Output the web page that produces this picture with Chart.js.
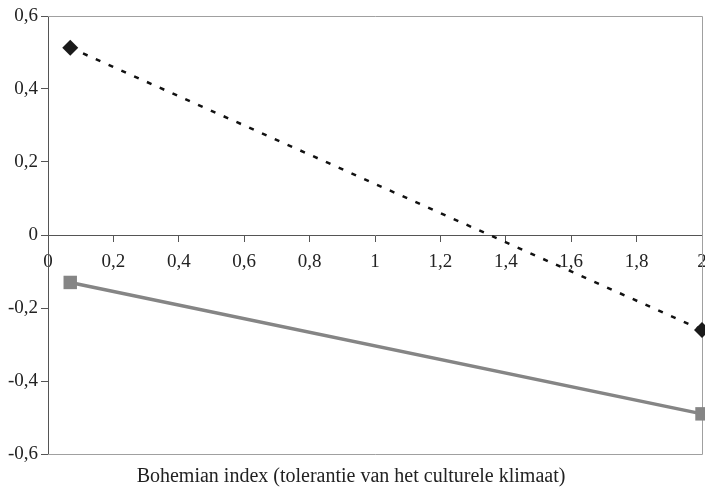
<!DOCTYPE html>
<html>
<head>
<meta charset="utf-8">
<script src="https://cdn.jsdelivr.net/npm/chart.js@4"></script>
<style>
  body { margin: 0; background: #fff; }
  #wrap { width: 705px; height: 494px; }
</style>
</head>
<body>
<div id="wrap"><canvas id="bohemChart"></canvas></div>
<script>
// waarden
let xValues = [0.068, 2.0];
let seriesDotted = [0.513, -0.26];
let seriesGrey = [-0.13, -0.49];
let xTicks = [0, 0.2, 0.4, 0.6, 0.8, 1, 1.2, 1.4, 1.6, 1.8, 2];
let yTicks = [-0.6, -0.4, -0.2, 0, 0.2, 0.4, 0.6];
let xTitle = 'Bohemian index (tolerantie van het culturele klimaat)';

function toPoints(ys) {
    return xValues.map(function (x, i) {
        return { x: x, y: ys[i] };
    });
}

function komma(v) {
    return String(Math.round(v * 10) / 10).replace('.', ',');
}

// grijze rand om het plotgebied (boven, rechts, onder)
let frame = {
    id: 'frame',
    beforeDatasetsDraw: function (chart) {
        let a = chart.chartArea;
        let c = chart.ctx;
        c.save();
        c.strokeStyle = '#a0a0a0';
        c.lineWidth = 1;
        c.beginPath();
        c.moveTo(a.left, a.top + 0.5);
        c.lineTo(a.right + 0.5, a.top + 0.5);
        c.lineTo(a.right + 0.5, a.bottom + 0.5);
        c.lineTo(a.left, a.bottom + 0.5);
        c.stroke();
        c.restore();
    }
};

let ctx = document.getElementById('bohemChart').getContext('2d');
let myChart = new Chart(ctx, {
    type: 'scatter',
    data: {
        datasets: [{
            data: toPoints(seriesDotted),
            showLine: true,
            borderColor: '#111',
            borderWidth: 2.5,
            borderDash: [5, 9],
            pointStyle: 'rectRot',
            pointRadius: 8,
            pointBackgroundColor: '#1a1a1a',
            pointBorderWidth: 0,
            clip: false
        }, {
            data: toPoints(seriesGrey),
            showLine: true,
            borderColor: '#858585',
            borderWidth: 3.5,
            pointStyle: 'rect',
            pointRadius: 9.5,
            pointBackgroundColor: '#858585',
            pointBorderWidth: 0,
            clip: false
        }]
    },
    options: {
        responsive: true,
        maintainAspectRatio: false,
        animation: false,
        layout: { autoPadding: false, padding: { top: 16, right: 3, left: 0, bottom: 0 } },
        plugins: {
            legend: { display: false },
            tooltip: { enabled: false },
            title: {
                display: true,
                position: 'bottom',
                text: xTitle,
                color: '#222',
                font: { family: 'Liberation Serif', size: 20, weight: 'normal' },
                padding: { top: 11, bottom: 5 }
            }
        },
        scales: {
            x: {
                type: 'linear',
                position: { y: 0 },
                min: 0,
                max: 2,
                afterBuildTicks: function (s) {
                    s.ticks = xTicks.map(function (v) { return { value: v }; });
                },
                afterFit: function (s) { s.paddingLeft = 0; s.paddingRight = 0; },
                ticks: {
                    color: '#222',
                    padding: 10,
                    font: { family: 'Liberation Serif', size: 19 },
                    callback: function (v) { return komma(v); }
                },
                grid: { drawOnChartArea: false, drawTicks: true, tickLength: 6, color: '#555' },
                border: { color: '#555', width: 1 }
            },
            y: {
                position: 'left',
                min: -0.6,
                max: 0.6,
                afterBuildTicks: function (s) {
                    s.ticks = yTicks.map(function (v) { return { value: v }; });
                },
                afterFit: function (s) { s.width = 48; },
                ticks: {
                    color: '#222',
                    padding: 3,
                    font: { family: 'Liberation Serif', size: 19 },
                    callback: function (v) { return komma(v); }
                },
                grid: { drawOnChartArea: false, drawTicks: true, tickLength: 7, color: '#555' },
                border: { color: '#555', width: 1 }
            }
        }
    },
    plugins: [frame]
});
</script>
</body>
</html>
